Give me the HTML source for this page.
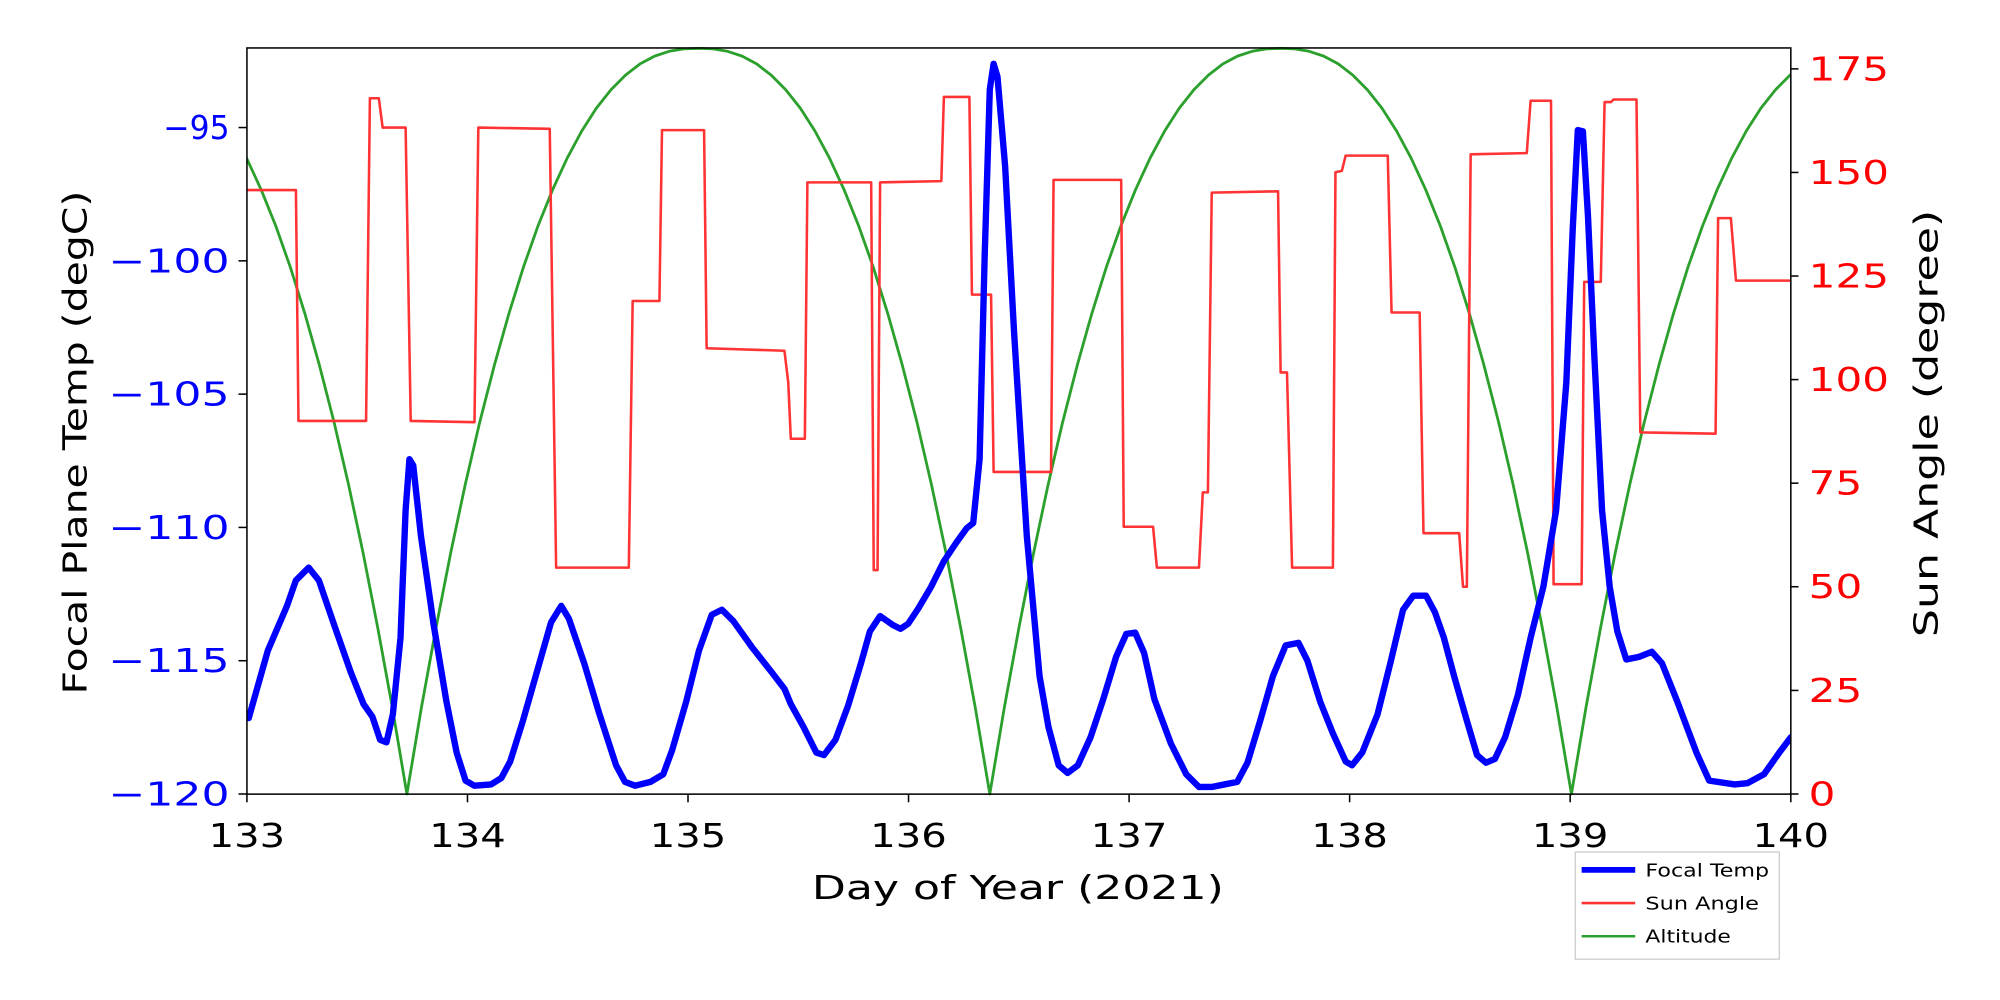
<!DOCTYPE html>
<html><head><meta charset="utf-8"><style>
html,body{margin:0;padding:0;background:#fff;}
svg{display:block;font-family:"DejaVu Sans","Liberation Sans",sans-serif;}
</style></head><body>
<svg width="2000" height="1000" viewBox="0 0 1568 784" xmlns="http://www.w3.org/2000/svg">
<rect width="1568" height="784" fill="#fff"/>
<defs><clipPath id="c"><rect x="193.6" y="36" width="1210.4" height="588"/></clipPath></defs>
<g clip-path="url(#c)">
<polyline fill="none" stroke="#2ca02c" stroke-width="2.2" stroke-linejoin="round" points="193.3,123.9 204.7,148.6 216.2,177.1 227.6,209.4 239,245.8 250.4,286.3 261.9,331 273.3,380.1 284.7,433.7 296.1,491.9 307.6,554.7 319,622.5 330.4,554.7 341.9,491.9 353.3,433.7 364.7,380.1 376.1,331 387.6,286.3 399,245.8 410.4,209.4 421.8,177.1 433.3,148.6 444.7,123.9 456.1,102.7 467.5,84.9 479,70.4 490.4,58.9 501.8,50.1 513.2,44 524.7,40.2 536.1,38.3 547.5,37.9 558.9,38.3 570.3,40.2 581.8,44 593.2,50.1 604.6,58.9 616,70.4 627.5,84.9 638.9,102.7 650.3,123.9 661.7,148.6 673.2,177.1 684.6,209.4 696,245.8 707.4,286.3 718.9,331 730.3,380.1 741.7,433.7 753.1,491.9 764.6,554.7 776,622.5 787.4,554.7 798.9,491.9 810.3,433.7 821.7,380.1 833.1,331 844.6,286.3 856,245.8 867.4,209.4 878.8,177.1 890.3,148.6 901.7,123.9 913.1,102.7 924.5,84.9 936,70.4 947.4,58.9 958.8,50.1 970.2,44 981.7,40.2 993.1,38.3 1004.5,37.9 1014.9,38.3 1026.3,40.2 1037.8,44 1049.2,50.1 1060.6,58.9 1072,70.4 1083.5,84.9 1094.9,102.7 1106.3,123.9 1117.7,148.6 1129.2,177.1 1140.6,209.4 1152,245.8 1163.4,286.3 1174.9,331 1186.3,380.1 1197.7,433.7 1209.1,491.9 1220.6,554.7 1232,622.5 1243.4,554.7 1254.9,491.9 1266.3,433.7 1277.7,380.1 1289.1,331 1300.6,286.3 1312,245.8 1323.4,209.4 1334.8,177.1 1346.3,148.6 1357.7,123.9 1369.1,102.7 1380.5,84.9 1392,70.4 1403.4,58.9 1410,52"/>
<polyline fill="none" stroke="#ff3333" stroke-width="2" stroke-linejoin="round" points="193,149 232,149 234,330 287,330 290,77 297,77 300,100 318,100 322,330 372,331 375,100 431,101 436,445 493,445 496,236 517,236 519,102 552,102 554,273 615,275 618,300 620,344 631,344 633,143 683,143 685,447 688,447 690,143 738,142 740,76 760,76 762,231 777,231 779,370 824,370 826,141 879,141 881,413 904,413 907,445 940,445 943,386 947,386 950,151 1002,150 1004,292 1009,292 1013,445 1045,445 1047,135 1052,134 1055,122 1088,122 1091,245 1113,245 1116,418 1144,418 1147,460 1150,460 1153,121 1197,120 1200,79 1216,79 1218,458 1240,458 1242,221 1255,221 1258,80 1263,80 1265,78 1283,78 1286,339 1345,340 1347,171 1357,171 1361,220 1404,220"/>
<polyline fill="none" stroke="#0000ff" stroke-width="5" stroke-linejoin="round" stroke-linecap="round" points="195,563 210,510 225,475 232,455 242,445 250,455 262,490 275,527 285,552 292,562 298,580 303,582 308,560 314,500 318,400 321,360 324,365 330,420 340,490 350,550 358,590 365,612 372,616 385,615 393,610 400,597 410,565 420,530 432,488 440,475 446,485 458,520 470,560 483,600 490,613 498,616 510,613 520,607 527,588 538,550 548,510 558,482 566,478 575,487 590,508 605,527 615,540 620,552 630,570 640,590 646,592 655,580 665,553 675,520 682,495 690,483 700,490 706,493 712,489 720,477 730,460 740,440 750,425 758,414 763,410 768,360 772,200 776,70 779,50 782,60 788,130 795,260 805,420 815,530 822,570 830,600 837,606 845,600 855,578 865,548 875,515 883,497 890,496 897,512 905,548 918,583 930,607 940,617 950,617 960,615 970,613 978,598 988,565 998,530 1008,506 1018,504 1025,518 1035,550 1045,575 1055,597 1060,600 1068,590 1080,560 1090,520 1100,478 1108,467 1118,467 1125,480 1132,500 1140,530 1150,565 1158,592 1165,598 1172,595 1180,578 1190,545 1200,500 1210,460 1220,400 1228,300 1233,180 1237,102 1241,103 1245,170 1250,280 1256,400 1262,460 1268,495 1275,517 1285,515 1295,511 1303,520 1315,550 1330,590 1340,612 1360,615 1370,614 1383,607 1395,590 1404,578"/>
</g>
<rect x="193.6" y="37.6" width="1210.4" height="585" fill="none" stroke="#000" stroke-width="1.2"/>
<g stroke="#000" stroke-width="1.2">
<line x1="193.6" y1="100" x2="187" y2="100"/><line x1="193.6" y1="204.5" x2="187" y2="204.5"/><line x1="193.6" y1="309" x2="187" y2="309"/><line x1="193.6" y1="413.5" x2="187" y2="413.5"/><line x1="193.6" y1="518" x2="187" y2="518"/><line x1="193.6" y1="622.5" x2="187" y2="622.5"/>
<line x1="1404" y1="622.5" x2="1410" y2="622.5"/><line x1="1404" y1="541.3" x2="1410" y2="541.3"/><line x1="1404" y1="460" x2="1410" y2="460"/><line x1="1404" y1="378.8" x2="1410" y2="378.8"/><line x1="1404" y1="297.6" x2="1410" y2="297.6"/><line x1="1404" y1="216.4" x2="1410" y2="216.4"/><line x1="1404" y1="135.2" x2="1410" y2="135.2"/><line x1="1404" y1="54" x2="1410" y2="54"/>
<line x1="193.6" y1="622.5" x2="193.6" y2="629"/><line x1="366.5" y1="622.5" x2="366.5" y2="629"/><line x1="539.4" y1="622.5" x2="539.4" y2="629"/><line x1="712.3" y1="622.5" x2="712.3" y2="629"/><line x1="885.2" y1="622.5" x2="885.2" y2="629"/><line x1="1058.1" y1="622.5" x2="1058.1" y2="629"/><line x1="1231" y1="622.5" x2="1231" y2="629"/><line x1="1404" y1="622.5" x2="1404" y2="629"/>
</g>
<g font-size="26" fill="#0000ff" text-anchor="end">
<text x="180" y="109" textLength="52" lengthAdjust="spacingAndGlyphs">−95</text><text x="180" y="213.5" textLength="95" lengthAdjust="spacingAndGlyphs">−100</text><text x="180" y="318" textLength="95" lengthAdjust="spacingAndGlyphs">−105</text><text x="180" y="422.5" textLength="95" lengthAdjust="spacingAndGlyphs">−110</text><text x="180" y="527" textLength="95" lengthAdjust="spacingAndGlyphs">−115</text><text x="180" y="631.5" textLength="95" lengthAdjust="spacingAndGlyphs">−120</text>
</g>
<g font-size="26" fill="#ff0000" text-anchor="start">
<text x="1418" y="631.5" textLength="21" lengthAdjust="spacingAndGlyphs">0</text><text x="1418" y="550.3" textLength="42" lengthAdjust="spacingAndGlyphs">25</text><text x="1418" y="469" textLength="42" lengthAdjust="spacingAndGlyphs">50</text><text x="1418" y="387.8" textLength="42" lengthAdjust="spacingAndGlyphs">75</text><text x="1418" y="306.6" textLength="63" lengthAdjust="spacingAndGlyphs">100</text><text x="1418" y="225.4" textLength="63" lengthAdjust="spacingAndGlyphs">125</text><text x="1418" y="144.2" textLength="63" lengthAdjust="spacingAndGlyphs">150</text><text x="1418" y="63" textLength="63" lengthAdjust="spacingAndGlyphs">175</text>
</g>
<g font-size="26" fill="#000" text-anchor="middle">
<text x="193.6" y="664" textLength="60" lengthAdjust="spacingAndGlyphs">133</text><text x="366.5" y="664" textLength="60" lengthAdjust="spacingAndGlyphs">134</text><text x="539.4" y="664" textLength="60" lengthAdjust="spacingAndGlyphs">135</text><text x="712.3" y="664" textLength="60" lengthAdjust="spacingAndGlyphs">136</text><text x="885.2" y="664" textLength="60" lengthAdjust="spacingAndGlyphs">137</text><text x="1058.1" y="664" textLength="60" lengthAdjust="spacingAndGlyphs">138</text><text x="1231" y="664" textLength="60" lengthAdjust="spacingAndGlyphs">139</text><text x="1404" y="664" textLength="60" lengthAdjust="spacingAndGlyphs">140</text>
<text x="798" y="705" textLength="323" lengthAdjust="spacingAndGlyphs">Day of Year (2021)</text>
<text transform="translate(68,347) rotate(-90)" textLength="395" lengthAdjust="spacingAndGlyphs">Focal Plane Temp (degC)</text>
<text transform="translate(1519,332) rotate(-90)" textLength="335" lengthAdjust="spacingAndGlyphs">Sun Angle (degree)</text>
</g>
<rect x="1235" y="668" width="160" height="84" fill="#fff" stroke="#ccc" stroke-width="1"/>
<line x1="1240" y1="682" x2="1282" y2="682" stroke="#0000ff" stroke-width="4.5"/>
<line x1="1240" y1="708" x2="1282" y2="708" stroke="#ff3333" stroke-width="2"/>
<line x1="1240" y1="734" x2="1282" y2="734" stroke="#2ca02c" stroke-width="2"/>
<g font-size="14" fill="#000">
<text x="1290" y="687" textLength="97" lengthAdjust="spacingAndGlyphs">Focal Temp</text><text x="1290" y="713" textLength="89" lengthAdjust="spacingAndGlyphs">Sun Angle</text><text x="1290" y="739" textLength="67" lengthAdjust="spacingAndGlyphs">Altitude</text>
</g>
</svg>
</body></html>
